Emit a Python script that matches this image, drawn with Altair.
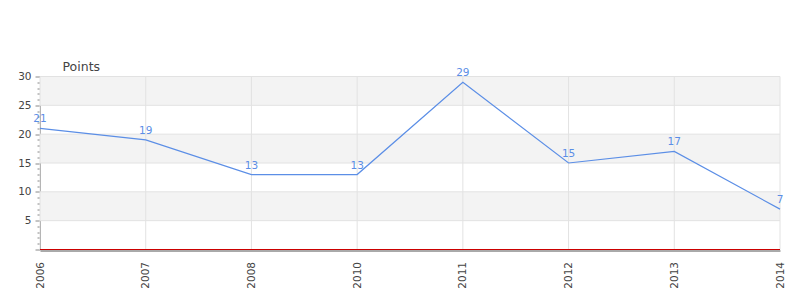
import altair as alt
import pandas as pd

years = ["2006", "2007", "2008", "2010", "2011", "2012", "2013", "2014"]
points = [21, 19, 13, 13, 29, 15, 17, 7]
band_start = [5, 15, 25]
band_end = [10, 20, 30]
grid_values = [5, 10, 15, 20, 25, 30]
y_ticks = list(range(0, 31))

FONT = "DejaVu Sans"
BLUE = "#5b8ee6"

df = pd.DataFrame({"year": years, "points": points})
bands = pd.DataFrame({"y0": band_start, "y1": band_end})
grid_df = pd.DataFrame({"g": grid_values})
vgrid_df = pd.DataFrame({"year": years})
base_df = pd.DataFrame({"z": [0]})

xscale = alt.Scale(type="point", padding=0, domain=years)
yscale = alt.Scale(domain=[0, 30], nice=False, zero=True)

x_axis = alt.Axis(
    labelAngle=270,
    labelAlign="right",
    labelBaseline="middle",
    labelPadding=11,
    labelFont=FONT,
    labelFontSize=10.5,
    labelColor="#444",
    ticks=False,
    grid=False,
    domainColor="#555",
    domainWidth=1,
    offset=1,
)

y_axis = alt.Axis(
    values=y_ticks,
    labelExpr="datum.value % 5 === 0 && datum.value > 0 ? datum.label : ''",
    tickSize={"condition": {"test": "datum.value % 5 === 0", "value": 5}, "value": 3},
    tickColor="#888",
    domainColor="#888",
    labelPadding=4,
    labelFont=FONT,
    labelFontSize=10.5,
    labelColor="#444",
    grid=False,
    titleAngle=0,
    titleAlign="left",
    titleBaseline="alphabetic",
    titleX=22,
    titleY=-6,
    titleFont=FONT,
    titleFontSize=12.5,
    titleFontWeight="normal",
    titleColor="#444",
)


def X(field):
    return alt.X(field, type="ordinal", scale=xscale, sort=None, title=None, axis=x_axis)


def Y(field):
    return alt.Y(field, type="quantitative", scale=yscale, title="Points", axis=y_axis)


band_layer = alt.Chart(bands).mark_rect(color="#f3f3f3").encode(
    y=Y("y0"),
    y2="y1:Q",
    x=alt.value(0),
    x2=alt.value(740),
)

hgrid = alt.Chart(grid_df).mark_rule(color="#e2e2e2", strokeWidth=1).encode(y=Y("g"))

vgrid = alt.Chart(vgrid_df).mark_rule(color="#e2e2e2", strokeWidth=1).encode(x=X("year"))

baseline = alt.Chart(base_df).mark_rule(color="#cc0000", strokeWidth=1).encode(y=Y("z"))

line = alt.Chart(df).mark_line(color=BLUE, strokeWidth=1.2).encode(x=X("year"), y=Y("points"))

labels = alt.Chart(df).mark_text(color=BLUE, dy=-9, fontSize=10.5, font=FONT).encode(
    x=X("year"),
    y=Y("points"),
    text="points:Q",
)

chart = alt.layer(band_layer, hgrid, vgrid, baseline, line, labels).properties(
    width=740,
    height=173,
    autosize="none",
    padding={"left": 40, "top": 76.5, "right": 20, "bottom": 50.5},
    background="white",
).configure_view(stroke=None)

chart.save("out.html", embed_options={"renderer": "svg", "actions": False})
